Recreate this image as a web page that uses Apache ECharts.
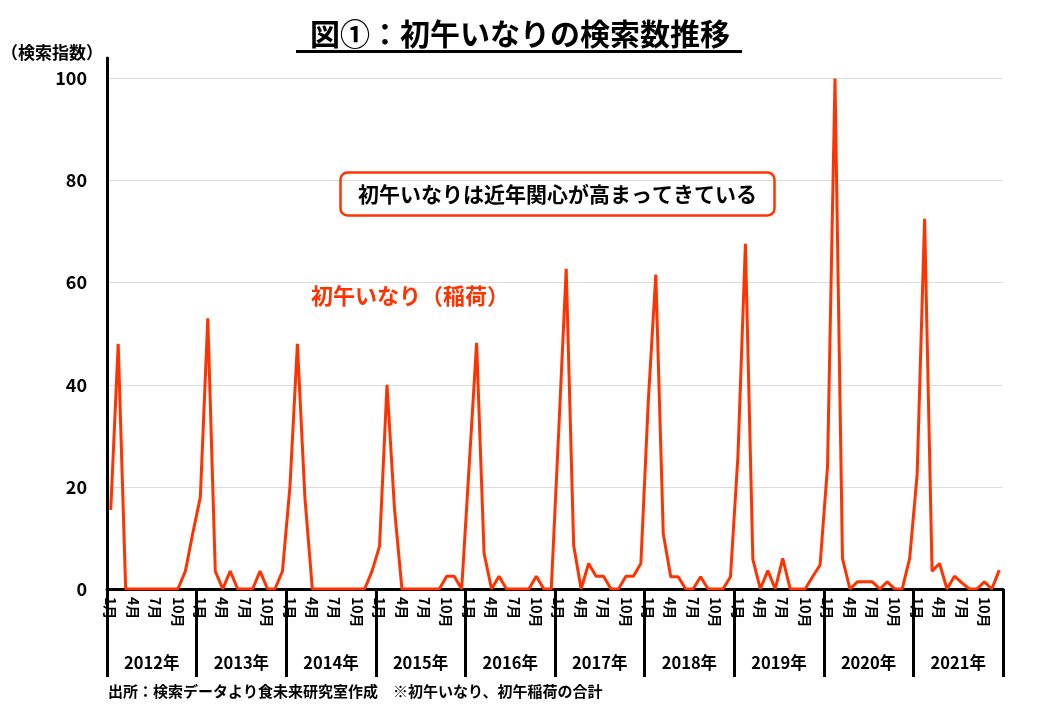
<!DOCTYPE html>
<html>
<head>
<meta charset="utf-8">
<script src="https://cdn.jsdelivr.net/npm/echarts@6/dist/echarts.min.js"></script>
<style>
  html, body { margin: 0; padding: 0; background: #fff; }
  #main { width: 1040px; height: 720px; }
</style>
</head>
<body>
<div id="main"></div>
<script>
// 年ごとの検索指数（1月〜12月）
var v2012 = [15.5, 48, 0, 0, 0, 0, 0, 0, 0, 0, 3.5, 11];
var v2013 = [18, 53, 3.5, 0, 3.5, 0, 0, 0, 3.5, 0, 0, 3.5];
var v2014 = [20, 48, 18, 0, 0, 0, 0, 0, 0, 0, 0, 3.5];
var v2015 = [8.4, 40, 15.8, 0, 0, 0, 0, 0, 0, 2.5, 2.5, 0];
var v2016 = [24, 48.2, 7, 0, 2.5, 0, 0, 0, 0, 2.5, 0, 0];
var v2017 = [31, 62.7, 8.5, 0, 5, 2.5, 2.5, 0, 0, 2.5, 2.5, 5];
var v2018 = [37, 61.6, 10.8, 2.4, 2.4, 0, 0, 2.4, 0, 0, 0, 2.4];
var v2019 = [26, 67.6, 5.8, 0, 3.6, 0, 6, 0, 0, 0, 2.4, 4.7];
var v2020 = [24, 100, 6, 0, 1.4, 1.4, 1.4, 0, 1.4, 0, 0, 6];
var v2021 = [22.4, 72.5, 3.5, 5, 0, 2.5, 1.2, 0, 0, 1.4, 0, 3.7];

var years = ['2012年', '2013年', '2014年', '2015年', '2016年', '2017年', '2018年', '2019年', '2020年', '2021年'];
var monthNames = ['1月', '2月', '3月', '4月', '5月', '6月', '7月', '8月', '9月', '10月', '11月', '12月'];
var yTicks = [0, 20, 40, 60, 80, 100];

var values = [].concat(v2012, v2013, v2014, v2015, v2016, v2017, v2018, v2019, v2020, v2021);
var months = [];
for (var y = 0; y < years.length; y++) {
    for (var m = 0; m < 12; m++) {
        months.push(monthNames[m]);
    }
}

var FONT = '"Noto Sans CJK JP", "Noto Sans", sans-serif';
var RED = '#ff3300';

var myChart = echarts.init(document.getElementById('main'));
myChart.setOption({
    animation: false,
    backgroundColor: '#fff',
    textStyle: { fontFamily: FONT },
    title: [{
        text: '図①：初午いなりの検索数推移',
        left: 'center',
        top: 19,
        padding: 0,
        textStyle: { fontFamily: FONT, fontSize: 30, fontWeight: 'bold', color: '#000' }
    }, {
        text: '初午いなりは近年関心が高まってきている',
        left: 340,
        top: 172,
        padding: [10, 18],
        borderColor: RED,
        borderWidth: 2.5,
        borderRadius: 7,
        textStyle: { fontFamily: FONT, fontSize: 21, lineHeight: 24, fontWeight: 'bold', color: '#000' }
    }, {
        text: '初午いなり（稲荷）',
        left: 311,
        top: 285,
        padding: 0,
        textStyle: { fontFamily: FONT, fontSize: 22, fontWeight: 'bold', color: RED }
    }, {
        text: '出所：検索データより食未来研究室作成　※初午いなり、初午稲荷の合計',
        left: 108,
        top: 684,
        padding: 0,
        textStyle: { fontFamily: FONT, fontSize: 15, fontWeight: 'bold', color: '#000' }
    }],
    graphic: [{
        // タイトルの下線
        type: 'rect',
        left: 296,
        top: 50,
        shape: { width: 446, height: 3 },
        style: { fill: '#000' }
    }],
    grid: { left: 107, right: 37, top: 58, bottom: 131, outerBoundsMode: 'none' },
    xAxis: [{
        type: 'category',
        data: months,
        boundaryGap: true,
        position: 'bottom',
        axisLine: { show: false },
        axisTick: { show: false },
        axisLabel: {
            interval: function (i) { return i % 3 === 0; },
            rotate: -90,
            margin: 8,
            fontFamily: FONT,
            fontSize: 14,
            fontWeight: 'bold',
            color: '#000'
        }
    }, {
        type: 'category',
        data: years,
        boundaryGap: true,
        position: 'bottom',
        axisLine: { show: true, lineStyle: { color: '#000', width: 3 } },
        axisTick: { show: true, interval: 0, length: 88, lineStyle: { color: '#000', width: 3 } },
        axisLabel: {
            interval: 0,
            margin: 65,
            fontFamily: FONT,
            fontSize: 16.5,
            fontWeight: 'bold',
            color: '#000'
        }
    }],
    yAxis: {
        type: 'value',
        min: 0,
        max: 104,
        interval: 20,
        name: '（検索指数）',
        nameLocation: 'end',
        nameGap: 5,
        nameTextStyle: {
            fontFamily: FONT, fontSize: 17, fontWeight: 'bold', color: '#000',
            align: 'right', verticalAlign: 'middle', padding: [0, 4, 0, 0]
        },
        axisLine: { show: true, lineStyle: { color: '#000', width: 3 } },
        axisTick: { show: false },
        axisLabel: {
            margin: 20,
            fontFamily: FONT,
            fontSize: 18,
            fontWeight: 'bold',
            color: '#000',
            formatter: function (v) { return yTicks.indexOf(v) >= 0 ? String(v) : ''; }
        },
        splitLine: { show: true, showMinLine: false, showMaxLine: false, lineStyle: { color: '#dcdcdc', width: 1 } }
    },
    series: [{
        type: 'line',
        name: '初午いなり（稲荷）',
        xAxisIndex: 0,
        data: values,
        symbol: 'none',
        lineStyle: { color: RED, width: 3 },
        itemStyle: { color: RED },
        z: 3
    }]
});
</script>
</body>
</html>
